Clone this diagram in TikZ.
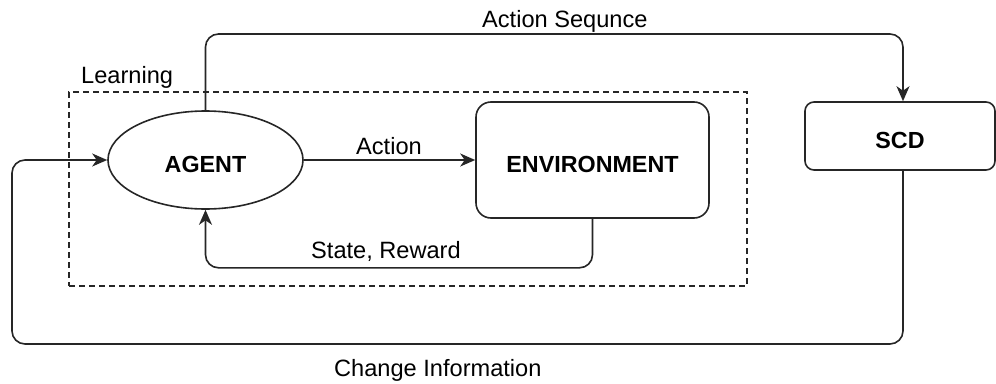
\documentclass[tikz,border=0pt]{standalone}
\usepackage{fontspec}
\setmainfont{Liberation Sans}
\usetikzlibrary{shapes.geometric,arrows.meta}

\tikzset{
  base/.style={line width=1.6pt, draw=black!85},
  boxlabel/.style={font=\fontsize{23.3}{27}\selectfont\bfseries, text height=24.5pt, text depth=0pt, inner sep=0pt},
  agentshape/.style={base, ellipse, boxlabel, minimum width=195pt, minimum height=98pt},
  envshape/.style={base, rectangle, boxlabel, rounded corners=15pt, minimum width=233pt, minimum height=116pt},
  scdshape/.style={base, rectangle, boxlabel, rounded corners=9pt, minimum width=190pt, minimum height=68pt},
  groupbox/.style={line width=1.5pt, draw=black!85, dash pattern=on 6pt off 4pt, minimum width=678pt, minimum height=194pt, inner sep=0pt},
  flow/.style={base, rounded corners=13pt, -{Stealth[length=15pt, width=13pt, inset=4.5pt]}},
  txt/.style={inner sep=0pt, anchor=base west}
}

\begin{document}
\begin{tikzpicture}[x=1pt, y=-1pt, font=\fontsize{23.6}{27}\selectfont]
  \useasboundingbox (0,0) rectangle (996,383);

  % learning group
  \node[groupbox] (learnbox) at (408,189) {};
  \node[txt] (learnlbl) at (81,83) {Learning};

  % main blocks
  \node[agentshape] (agent) at (205.5,160) {AGENT};
  \node[envshape] (env) at (592.5,160) {ENVIRONMENT};
  \node[scdshape] (scd) at (900,136) {SCD};

  % routing points
  \coordinate (toprun) at (205,34);
  \coordinate (scdport) at ([xshift=3pt]scd.north);
  \coordinate (scdout) at ([xshift=3pt]scd.south);
  \coordinate (loopcorner) at (12,344);
  \coordinate (envout) at (env.south);

  % agent -> environment
  \draw[flow] (agent.east) -- (env.west);
  \node[txt] (actlbl) at (356,154) {Action};

  % environment -> agent
  \draw[flow] (envout) -- ++(0,49) -| (agent.south);
  \node[txt] (srlbl) at (311,258) {State, Reward};

  % agent -> SCD
  \draw[flow] (agent.north) |- (scdport |- toprun) -- (scdport);
  \node[txt] (seqlbl) at (482,27) {Action Sequnce};

  % SCD -> agent
  \draw[flow] (scdout) |- (loopcorner) |- (agent.west);
  \node[txt] (chglbl) at (334,376) {Change Information};
\end{tikzpicture}
\end{document}
